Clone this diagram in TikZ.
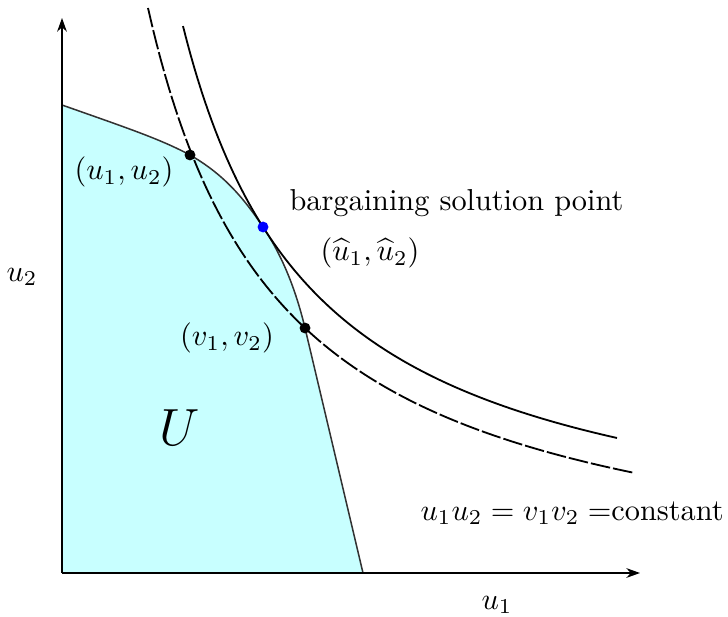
\documentclass[tikz,border=0pt]{standalone}
\usetikzlibrary{arrows.meta}
\definecolor{ufill}{RGB}{200,255,255}
\definecolor{edge}{RGB}{50,50,50}
\begin{document}
\begin{tikzpicture}[x=0.33pt,y=-0.33pt,
  axis/.style={line width=0.6pt,-{Stealth[length=4.5pt,width=3.2pt]}},
  frontier/.style={line width=0.5pt,draw=edge},
  hyp/.style={line width=0.6pt},
  dashhyp/.style={line width=0.6pt,dash pattern=on 6.5pt off 1pt},
  dot/.style={circle,fill=black,inner sep=0pt,minimum size=3.6pt},
  bluedot/.style={circle,fill=blue,inner sep=0pt,minimum size=3.6pt},
  lbl/.style={inner sep=0pt}]
\useasboundingbox (0,0) rectangle (728,616);
% feasible set U
\fill[ufill] (62,573) -- (62,105) .. controls (130,129) and (160,139) .. (190,155)
  .. controls (225,175) and (245,200) .. (263,227)
  .. controls (285,260) and (297,295) .. (305,328) -- (363,573) -- cycle;
\draw[frontier] (62,105) .. controls (130,129) and (160,139) .. (190,155)
  .. controls (225,175) and (245,200) .. (263,227)
  .. controls (285,260) and (297,295) .. (305,328) -- (363,573);
% hyperbolas
\draw[hyp] plot[domain=183:617,samples=120] (\x,{566.1-729/((\x-48)/100)});
\draw[dashhyp] plot[domain=148:635,samples=120] (\x,{600.8-793.17/((\x-14.2)/100)});
% axes
\coordinate (O) at (62,573);
\coordinate (ytip) at (62,18);
\coordinate (xtip) at (640,573);
\draw[axis] (O) -- (ytip);
\draw[axis] (O) -- (xtip);
% points
\node[dot] (p1) at (190,155) {};
\node[dot] (p2) at (305,328) {};
\node[bluedot] (p3) at (263,227) {};
% labels
\node[lbl] (l1) at (124,172) {$(u_1,u_2)$};
\node[lbl,anchor=west] (l2) at (289,203) {bargaining solution point};
\node[lbl] (l3) at (370,253) {$(\widehat{u}_1,\widehat{u}_2)$};
\node[lbl] (l4) at (227,338) {$(v_1,v_2)$};
\node[lbl] (lU) at (180,428) {\LARGE $U$};
\node[lbl] (lu2) at (22,277) {$u_2$};
\node[lbl] (lu1) at (497,605) {$u_1$};
\node[lbl,anchor=west] (lc) at (420,513) {$u_1u_2=v_1v_2=$constant};
\end{tikzpicture}
\end{document}
